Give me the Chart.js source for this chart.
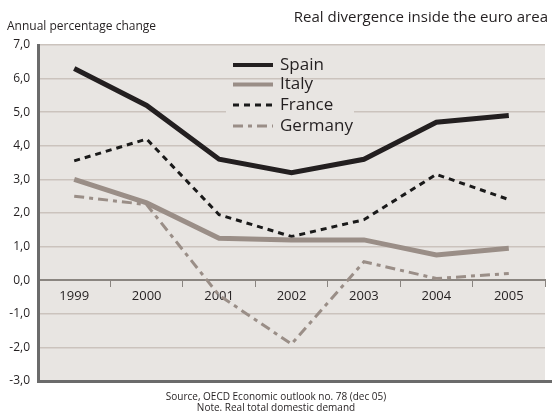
<!DOCTYPE html>
<html>
<head>
<meta charset="utf-8">
<script src="https://cdn.jsdelivr.net/npm/chart.js@4/dist/chart.umd.min.js"></script>
<style>
  html, body { margin: 0; padding: 0; background: #ffffff; }
  #wrap { width: 552px; height: 419px; position: relative; }
</style>
</head>
<body>
<div id="wrap"><canvas id="c" width="552" height="419"></canvas></div>
<script>
const years = ["1999", "2000", "2001", "2002", "2003", "2004", "2005"];
const spain   = [6.3, 5.2, 3.6, 3.2, 3.6, 4.7, 4.9];
const italy   = [3.0, 2.3, 1.25, 1.2, 1.2, 0.75, 0.95];
const france  = [3.55, 4.2, 1.95, 1.3, 1.8, 3.15, 2.4];
const germany = [2.5, 2.25, -0.45, -1.9, 0.55, 0.05, 0.2];
const yTicks  = [7, 6, 5, 4, 3, 2, 1, 0, -1, -2, -3];

const titleText = "Real divergence inside the euro area";
const yTitleText = "Annual percentage change";
const sourceLines = ["Source, OECD Economic outlook no. 78 (dec 05)", "Note. Real total domestic demand"];

const FONT = "'Open Sans', sans-serif";
const BG = "#e8e5e2";
const DARK = "#231f20";
const TAUPE = "#9a8e87";

const decor = {
  id: 'decor',
  beforeDraw(chart) {
    const { ctx, chartArea: a } = chart;
    ctx.save();
    ctx.fillStyle = BG;
    ctx.fillRect(a.left, a.top, a.right - a.left, a.bottom - a.top);
    ctx.restore();
  },
  afterDraw(chart) {
    const { ctx, chartArea: a } = chart;
    ctx.save();
    // bottom axis line
    ctx.strokeStyle = "#6b6b6b";
    ctx.lineWidth = 3;
    ctx.beginPath();
    ctx.moveTo(a.left - 1, a.bottom + 0.5);
    ctx.lineTo(chart.width, a.bottom + 0.5);
    ctx.stroke();
    // texts
    ctx.fillStyle = "#231f20";
    ctx.textBaseline = "middle";
    ctx.font = "15px " + FONT;
    ctx.textAlign = "right";
    ctx.fillText(titleText, 548, 18);
    ctx.font = "12px " + FONT;
    ctx.textAlign = "left";
    ctx.fillText(yTitleText, 7, 27);
    ctx.font = "10px " + FONT;
    ctx.textAlign = "center";
    ctx.fillText(sourceLines[0], 276, 397);
    ctx.fillText(sourceLines[1], 276, 408);
    ctx.restore();
  },
  afterDatasetsDraw(chart) {
    const { ctx } = chart;
    ctx.save();
    // legend backdrop
    ctx.fillStyle = BG;
    ctx.fillRect(226, 90, 128, 48);
    const rows = [65, 84.5, 105, 126];
    chart.data.datasets.forEach((ds, i) => {
      const y = rows[i];
      ctx.strokeStyle = ds.borderColor;
      ctx.lineWidth = ds.legendWidth;
      ctx.setLineDash(ds.borderDash || []);
      ctx.beginPath();
      ctx.moveTo(233, y);
      ctx.lineTo(273, y);
      ctx.stroke();
      ctx.setLineDash([]);
      ctx.fillStyle = "#231f20";
      ctx.font = "17px " + FONT;
      ctx.textAlign = "left";
      ctx.textBaseline = "middle";
      ctx.fillText(ds.label, 280, y);
    });
    ctx.restore();
  }
};

new Chart(document.getElementById('c'), {
  type: 'line',
  data: {
    labels: years,
    datasets: [
      { label: "Spain", data: spain, borderColor: DARK, borderWidth: 5, legendWidth: 4, pointRadius: 0, tension: 0, borderJoinStyle: 'miter', borderCapStyle: 'butt' },
      { label: "Italy", data: italy, borderColor: TAUPE, borderWidth: 5, legendWidth: 4, pointRadius: 0, tension: 0, borderJoinStyle: 'miter' },
      { label: "France", data: france, borderColor: "#1a1a1a", borderWidth: 3, legendWidth: 3, borderDash: [6, 5], pointRadius: 0, tension: 0 },
      { label: "Germany", data: germany, borderColor: TAUPE, borderWidth: 3, legendWidth: 3, borderDash: [10, 5, 4, 5], pointRadius: 0, tension: 0 }
    ]
  },
  options: {
    responsive: false,
    animation: false,
    layout: { padding: { left: 0, right: 7, top: 45, bottom: 38 } },
    plugins: { legend: { display: false }, tooltip: { enabled: false }, title: { display: false } },
    scales: {
      x: {
        type: 'category',
        offset: true,
        position: { y: 0 },
        grid: { display: true, drawOnChartArea: false, drawTicks: true, tickLength: 6, offset: true, color: "#8a8580", lineWidth: 1 },
        border: { display: true, color: "#8a8580", width: 2 },
        ticks: { color: "#231f20", font: { family: FONT, size: 13 }, padding: 2, maxRotation: 0 }
      },
      y: {
        min: -3, max: 7,
        afterFit(scale) { scale.width = 38; },
        afterBuildTicks(scale) { scale.ticks = yTicks.map(v => ({ value: v })); },
        grid: { color: (c) => (c.tick && c.tick.value === -3) ? 'rgba(0,0,0,0)' : "#cbc3bd", lineWidth: 1.5, drawTicks: false },
        border: { display: true, color: "#6b6b6b", width: 3 },
        ticks: {
          color: "#231f20",
          font: { family: FONT, size: 12 },
          padding: 8,
          callback: (v) => Number(v).toFixed(1).replace('.', ',')
        }
      }
    }
  },
  plugins: [decor]
});
</script>
</body>
</html>
